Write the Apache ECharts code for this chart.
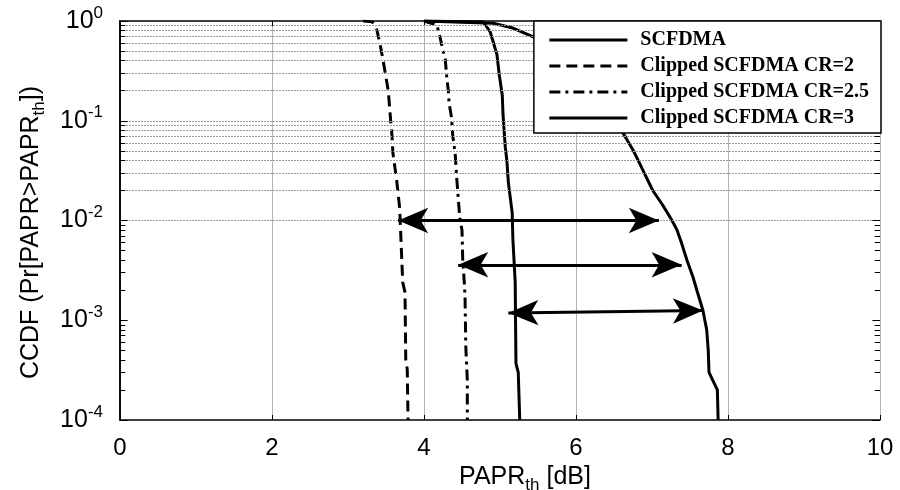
<!DOCTYPE html>
<html>
<head>
<meta charset="utf-8">
<script src="https://cdn.jsdelivr.net/npm/echarts@6/dist/echarts.min.js"></script>
<style>html,body{margin:0;padding:0;background:#fff}#c{width:900px;height:490px}</style>
</head>
<body>
<div id="c"></div>
<script>
// ---- data ----
const seriesNames = ['SCFDMA', 'Clipped SCFDMA CR=2', 'Clipped SCFDMA CR=2.5', 'Clipped SCFDMA CR=3'];

const scfdmaX = [4.0, 4.91, 5.17, 5.46, 5.8, 6.1, 6.35, 6.5, 6.62, 6.75, 6.88, 7.01, 7.14, 7.26, 7.33, 7.39, 7.46, 7.54, 7.59, 7.67, 7.72, 7.74, 7.75, 7.86, 7.87];
const scfdmaY = [1, 0.95, 0.85, 0.68, 0.45, 0.28, 0.15, 0.11, 0.075, 0.051, 0.032, 0.020, 0.0143, 0.0101, 0.0080, 0.0059, 0.0040, 0.0027, 0.0020, 0.00126, 0.00080, 0.00050, 0.00030, 0.00020, 0.0001];

const cr2X = [3.20, 3.32, 3.38, 3.42, 3.46, 3.53, 3.55, 3.58, 3.59, 3.64, 3.68, 3.72, 3.75, 3.76, 3.78, 3.79];
const cr2Y = [1, 0.98, 0.81, 0.60, 0.41, 0.20, 0.128, 0.069, 0.048, 0.0255, 0.0133, 0.0024, 0.0019, 0.0004, 0.00032, 0.0001];

const cr25X = [4.0, 4.17, 4.21, 4.24, 4.28, 4.30, 4.32, 4.33, 4.36, 4.38, 4.41, 4.43, 4.45, 4.47, 4.50, 4.51, 4.53, 4.54, 4.55, 4.57, 4.57];
const cr25Y = [1, 0.91, 0.69, 0.55, 0.41, 0.27, 0.20, 0.15, 0.11, 0.069, 0.047, 0.027, 0.017, 0.0108, 0.0080, 0.0040, 0.0024, 0.0017, 0.00054, 0.00025, 0.0001];

const cr3X = [4.0, 4.78, 4.87, 4.91, 4.96, 4.99, 5.03, 5.04, 5.07, 5.09, 5.11, 5.16, 5.17, 5.20, 5.21, 5.24, 5.26];
const cr3Y = [1, 0.98, 0.78, 0.62, 0.46, 0.29, 0.18, 0.115, 0.054, 0.040, 0.024, 0.012, 0.0064, 0.0024, 0.00037, 0.0003, 0.0001];

// double-headed arrows (annotation)
const arrowLeftX  = [3.66, 4.45, 5.11];
const arrowLeftY  = [0.01, 0.0036, 0.00118];
const arrowRightX = [7.09, 7.39, 7.67];
const arrowRightY = [0.01, 0.0036, 0.00125];

// ---- build ----
function pairs(xs, ys) { return xs.map((x, i) => [x, ys[i]]); }

const minorVals = [];
for (let e = -4; e < 0; e++) for (let d = 2; d <= 9; d++) minorVals.push(d * Math.pow(10, e));
const majorVals = [1e-4, 1e-3, 1e-2, 1e-1, 1];

const gridLineData = minorVals.concat([1e-3, 1e-2, 1e-1]).map(v => ({ yAxis: v }));
const tickData = [];
minorVals.forEach(v => {
  tickData.push([{ coord: [0, v] }, { coord: [0.07, v] }]);
  tickData.push([{ coord: [9.93, v] }, { coord: [10, v] }]);
});
majorVals.forEach(v => {
  tickData.push([{ coord: [0, v] }, { coord: [0.1, v] }]);
  tickData.push([{ coord: [9.9, v] }, { coord: [10, v] }]);
});
const arrowData = arrowLeftX.map((x, i) => [
  { coord: [x, arrowLeftY[i]] },
  { coord: [arrowRightX[i], arrowRightY[i]] }
]);

const FONT = 'Liberation Sans';
const chart = echarts.init(document.getElementById('c'), null, { renderer: 'canvas' });

const lineBase = { type: 'line', symbol: 'none', smooth: false, clip: true, z: 3 };

chart.setOption({
  animation: false,
  backgroundColor: '#fff',
  grid: { left: 120, right: 20, top: 21, bottom: 70, show: false, containLabel: false, outerBoundsMode: 'none' },
  legend: {
    orient: 'vertical',
    right: 19, top: 21,
    data: seriesNames,
    backgroundColor: '#fff',
    borderColor: '#000',
    borderWidth: 1.5,
    padding: [9, 12, 5, 14],
    itemWidth: 78,
    itemHeight: 14,
    itemGap: 6,
    itemStyle: { opacity: 0, borderWidth: 0 },
    lineStyle: { width: 3 },
    textStyle: { fontFamily: 'Liberation Serif', fontWeight: 'bold', fontSize: 20, color: '#000', padding: [0, 0, 0, 8] },
    z: 10
  },
  xAxis: [{
    type: 'value', min: 0, max: 10, interval: 2, position: 'bottom',
    name: '{m|PAPR}{s|th}{m| [dB]}', nameLocation: 'middle', nameGap: 33,
    nameTextStyle: { padding: [0, 0, 0, 50], rich: {
      m: { fontFamily: FONT, fontSize: 25, color: '#000' },
      s: { fontFamily: FONT, fontSize: 17, color: '#000', padding: [16, 0, 0, 0] }
    } },
    axisLine: { lineStyle: { color: '#000', width: 1.5 } },
    axisTick: { inside: true, length: 5, lineStyle: { color: '#000' } },
    axisLabel: { fontFamily: FONT, fontSize: 24, color: '#000', margin: 16 },
    splitLine: { show: true, lineStyle: { color: '#b4b4b4', width: 1 } }
  }, {
    type: 'value', min: 0, max: 10, interval: 2, position: 'top',
    axisLine: { show: true, onZero: false, lineStyle: { color: '#000', width: 1.5 } },
    axisTick: { inside: true, length: 5, lineStyle: { color: '#000' } },
    axisLabel: { show: false }, splitLine: { show: false }
  }],
  yAxis: [{
    type: 'log', logBase: 10, min: 1e-4, max: 1, position: 'left',
    name: '{m|CCDF (Pr[PAPR>PAPR}{s|th}{m|])}', nameLocation: 'middle', nameRotate: 90, nameGap: 72,
    nameTextStyle: { padding: [0, 24, 0, 0], rich: {
      m: { fontFamily: FONT, fontSize: 25, color: '#000' },
      s: { fontFamily: FONT, fontSize: 17, color: '#000', padding: [16, 0, 0, 0] }
    } },
    axisLine: { lineStyle: { color: '#000', width: 1.5 } },
    axisTick: { show: false },
    axisLabel: {
      margin: 17,
      formatter: v => '{b|10}{s|' + Math.round(Math.log10(v)) + '}',
      rich: {
        b: { fontFamily: FONT, fontSize: 25, color: '#000' },
        s: { fontFamily: FONT, fontSize: 17, color: '#000', padding: [0, 0, 16, 0] }
      }
    },
    splitLine: { show: false }
  }, {
    type: 'log', logBase: 10, min: 1e-4, max: 1, position: 'right',
    axisLine: { show: true, lineStyle: { color: '#000', width: 1.5 } },
    axisTick: { show: false }, axisLabel: { show: false }, splitLine: { show: false }
  }],
  series: [
    {
      type: 'line', name: '_grid', data: [], z: 1, silent: true,
      markLine: {
        silent: true, symbol: ['none', 'none'], label: { show: false },
        lineStyle: { color: '#9a9a9a', width: 1, type: [2, 1] },
        emphasis: { disabled: true },
        data: gridLineData,
        animation: false
      }
    },
    {
      type: 'line', name: '_ticks', data: [], z: 2, silent: true,
      markLine: {
        silent: true, symbol: ['none', 'none'], label: { show: false },
        lineStyle: { color: '#000', width: 1, type: 'solid' },
        emphasis: { disabled: true },
        data: tickData,
        animation: false
      }
    },
    Object.assign({}, lineBase, { name: seriesNames[0], data: pairs(scfdmaX, scfdmaY),
      lineStyle: { color: '#000', width: 3, type: 'solid' }, itemStyle: { color: '#000' } }),
    Object.assign({}, lineBase, { name: seriesNames[1], data: pairs(cr2X, cr2Y),
      lineStyle: { color: '#000', width: 3, type: [11, 6] }, itemStyle: { color: '#000' } }),
    Object.assign({}, lineBase, { name: seriesNames[2], data: pairs(cr25X, cr25Y),
      lineStyle: { color: '#000', width: 3, type: [11, 5, 3, 5] }, itemStyle: { color: '#000' } }),
    Object.assign({}, lineBase, { name: seriesNames[3], data: pairs(cr3X, cr3Y),
      lineStyle: { color: '#000', width: 3, type: 'solid' }, itemStyle: { color: '#000' },
      markLine: {
        silent: true, symbol: ['arrow', 'arrow'], symbolSize: [19, 30],
        label: { show: false },
        lineStyle: { color: '#000', width: 3, type: 'solid' },
        emphasis: { disabled: true },
        data: arrowData,
        animation: false
      } })
  ]
});
</script>
</body>
</html>
